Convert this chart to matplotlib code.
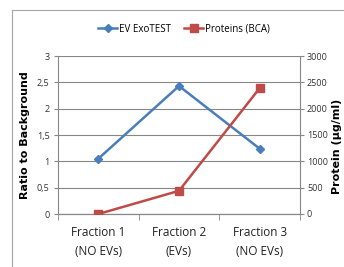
import matplotlib
matplotlib.use("Agg")
import matplotlib.pyplot as plt
from matplotlib.patches import Rectangle
from matplotlib.lines import Line2D

categories = ["Fraction 1\n(NO EVs)", "Fraction 2\n(EVs)", "Fraction 3\n(NO EVs)"]
ev_exotest = [1.05, 2.43, 1.24]
proteins_bca = [0, 440, 2390]
left_ticks = [0, 0.5, 1, 1.5, 2, 2.5, 3]
left_tick_labels = ["0", "0,5", "1", "1,5", "2", "2,5", "3"]
right_ticks = [0, 500, 1000, 1500, 2000, 2500, 3000]

plt.rcParams['font.family'] = ['Open Sans', 'DejaVu Sans']

W, H = 344, 267
fig = plt.figure(figsize=(W / 100, H / 100), dpi=100)

# outer chart frame
fig.patches.append(Rectangle((12 / W, -0.1), 1.2, (H - 10) / H + 0.1,
                             transform=fig.transFigure, fill=False,
                             edgecolor="#a6a6a6", linewidth=0.8))

left, right, top, bottom = 58, 300, 56, 214
aw = right - left
ax = fig.add_axes([left / W, 1 - bottom / H, aw / W, (bottom - top) / H])
ax2 = ax.twinx()

x = list(range(len(categories)))
blue = "#4a7ebb"
red = "#be4b48"
gray = "#878787"

ax.plot(x, ev_exotest, color=blue, lw=1.8, marker="D", ms=4.5, zorder=3)
ax2.plot(x, proteins_bca, color=red, lw=1.8, marker="s", ms=5.5, zorder=3)

ax.set_xlim(-0.5, 2.5)
ax.set_ylim(0, 3)
ax2.set_ylim(0, 3000)
ax.set_yticks(left_ticks)
ax.set_yticklabels(left_tick_labels)
ax2.set_yticks(right_ticks)
ax.set_xticks(x)
ax.set_xticklabels(categories, fontsize=8.5, color="#222222", linespacing=1.55)
ax.set_xticks([-0.5, 0.5, 1.5, 2.5], minor=True)
ax.tick_params(axis="x", which="major", length=0, pad=9)
ax.tick_params(axis="x", which="minor", length=4, color=gray, direction="out")
ax.tick_params(axis="y", length=3, color=gray, labelsize=6.5, labelcolor="#333333", pad=3)
ax2.tick_params(axis="y", length=3, color=gray, labelsize=6.5, labelcolor="#333333", pad=2)

ax.grid(axis="y", color=gray, lw=0.8)
ax.set_axisbelow(True)
for a in (ax, ax2):
    a.spines["top"].set_visible(False)
    a.spines["left"].set_color(gray)
    a.spines["right"].set_color(gray)
    a.spines["bottom"].set_color(gray)
ax.spines["right"].set_visible(False)
ax2.spines["left"].set_visible(False)

ax.set_ylabel("Ratio to Background", fontsize=8, fontweight="bold",
              family=["DejaVu Sans"])
ax.yaxis.set_label_coords((30 - left) / aw, 0.5)
ax2.set_ylabel("Protein (µg/ml)", fontsize=8, fontweight="bold",
               family=["DejaVu Sans"])
ax2.yaxis.set_label_coords((332 - left) / aw, 0.43)

handles = [Line2D([], [], color=blue, lw=1.8, marker="D", ms=4.5),
           Line2D([], [], color=red, lw=1.8, marker="s", ms=5.5)]
fig.legend(handles, ["EV ExoTEST", "Proteins (BCA)"], loc="center",
           bbox_to_anchor=(184 / W, 1 - 29 / H), ncol=2, frameon=False,
           fontsize=7, handlelength=2.0, handletextpad=0.2, columnspacing=1.3)

fig.savefig("out.png", dpi=100)
